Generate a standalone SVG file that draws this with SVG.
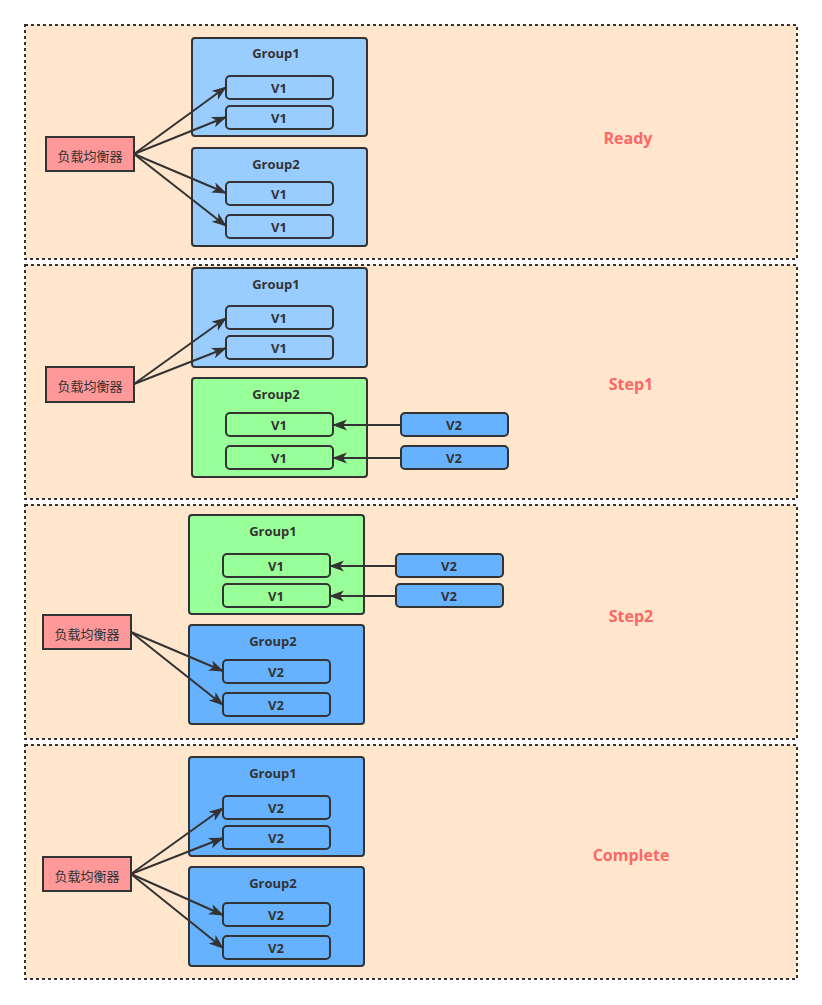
<svg xmlns="http://www.w3.org/2000/svg" width="822" height="1005" viewBox="0 0 822 1005">
<defs>
<marker id="ah" markerWidth="16" markerHeight="12" refX="14" refY="5.5" orient="auto" markerUnits="userSpaceOnUse">
<path d="M0,0 L15,5.5 L0,11 L4,5.5 Z" fill="#333"/>
</marker>
<style>
.panel{fill:#FFE6CC;stroke:#333;stroke-width:2;stroke-dasharray:3 3}
.grp{stroke:#333;stroke-width:2}
.b1{fill:#99CCFF}
.b2{fill:#66B2FF}
.g{fill:#99FF99}
.lb{fill:#FF9999;stroke:#333;stroke-width:2}
.t{font-family:"Open Sans","Liberation Sans","Noto Sans CJK SC",sans-serif;font-weight:bold;font-size:13px;fill:#333;text-anchor:middle;dominant-baseline:central}
.c{font-family:"Noto Sans CJK SC","Liberation Sans",sans-serif;font-size:13px;fill:#333;text-anchor:middle;dominant-baseline:central}
.lab{font-family:"Open Sans","Liberation Sans",sans-serif;font-weight:bold;font-size:16px;fill:#FF6666;text-anchor:middle;dominant-baseline:central}
.e{fill:none;stroke:#333;stroke-width:2;marker-end:url(#ah)}
</style>
</defs>
<rect width="822" height="1005" fill="#fff"/>
<g id="panels">
<rect class="panel" x="25" y="25" width="772" height="234"/>
<rect class="panel" x="25" y="265" width="772" height="234"/>
<rect class="panel" x="25" y="505" width="772" height="234"/>
<rect class="panel" x="25" y="745" width="772" height="234"/>
</g>
<g id="labels">
<text class="lab" x="628" y="138">Ready</text>
<text class="lab" x="631" y="384">Step1</text>
<text class="lab" x="631" y="616">Step2</text>
<text class="lab" x="631" y="855">Complete</text>
</g>
<!-- Panel 1 -->
<g id="p1-group1"><rect class="grp b1" x="192" y="38" width="175" height="98" rx="3"/><text class="t" x="276" y="53">Group1</text></g>
<g id="p1-g1-v1a"><rect class="grp b1" x="226" y="76" width="107" height="23" rx="4"/><text class="t" x="279" y="88">V1</text></g>
<g id="p1-g1-v1b"><rect class="grp b1" x="226" y="106" width="107" height="23" rx="4"/><text class="t" x="279" y="118">V1</text></g>
<g id="p1-group2"><rect class="grp b1" x="192" y="148" width="175" height="98" rx="3"/><text class="t" x="276" y="164">Group2</text></g>
<g id="p1-g2-v1a"><rect class="grp b1" x="226" y="182" width="107" height="23" rx="4"/><text class="t" x="279" y="194">V1</text></g>
<g id="p1-g2-v1b"><rect class="grp b1" x="226" y="215" width="107" height="23" rx="4"/><text class="t" x="279" y="227">V1</text></g>
<g id="p1-lb"><rect class="lb" x="46" y="137" width="88" height="34"/><text class="c" x="90" y="155">负载均衡器</text></g>
<!-- Panel 2 -->
<g id="p2-group1"><rect class="grp b1" x="192" y="268" width="175" height="99" rx="3"/><text class="t" x="276" y="284">Group1</text></g>
<g id="p2-g1-v1a"><rect class="grp b1" x="226" y="306" width="107" height="23" rx="4"/><text class="t" x="279" y="318">V1</text></g>
<g id="p2-g1-v1b"><rect class="grp b1" x="226" y="336" width="107" height="23" rx="4"/><text class="t" x="279" y="348">V1</text></g>
<g id="p2-group2"><rect class="grp g" x="192" y="378" width="175" height="99" rx="3"/><text class="t" x="276" y="394">Group2</text></g>
<g id="p2-g2-v1a"><rect class="grp g" x="226" y="413" width="107" height="23" rx="4"/><text class="t" x="279" y="425">V1</text></g>
<g id="p2-g2-v1b"><rect class="grp g" x="226" y="446" width="107" height="23" rx="4"/><text class="t" x="279" y="458">V1</text></g>
<g id="p2-v2a"><rect class="grp b2" x="401" y="413" width="107" height="23" rx="4"/><text class="t" x="454" y="425">V2</text></g>
<g id="p2-v2b"><rect class="grp b2" x="401" y="446" width="107" height="23" rx="4"/><text class="t" x="454" y="458">V2</text></g>
<g id="p2-lb"><rect class="lb" x="46" y="367" width="88" height="35"/><text class="c" x="90" y="385">负载均衡器</text></g>
<!-- Panel 3 -->
<g id="p3-group1"><rect class="grp g" x="189" y="515" width="175" height="99" rx="3"/><text class="t" x="273" y="531">Group1</text></g>
<g id="p3-g1-v1a"><rect class="grp g" x="223" y="554" width="107" height="23" rx="4"/><text class="t" x="276" y="566">V1</text></g>
<g id="p3-g1-v1b"><rect class="grp g" x="223" y="584" width="107" height="23" rx="4"/><text class="t" x="276" y="596">V1</text></g>
<g id="p3-group2"><rect class="grp b2" x="189" y="625" width="175" height="99" rx="3"/><text class="t" x="273" y="641">Group2</text></g>
<g id="p3-g2-v2a"><rect class="grp b2" x="223" y="660" width="107" height="23" rx="4"/><text class="t" x="276" y="672">V2</text></g>
<g id="p3-g2-v2b"><rect class="grp b2" x="223" y="693" width="107" height="23" rx="4"/><text class="t" x="276" y="705">V2</text></g>
<g id="p3-v2a"><rect class="grp b2" x="396" y="554" width="107" height="23" rx="4"/><text class="t" x="449" y="566">V2</text></g>
<g id="p3-v2b"><rect class="grp b2" x="396" y="584" width="107" height="23" rx="4"/><text class="t" x="449" y="596">V2</text></g>
<g id="p3-lb"><rect class="lb" x="43" y="615" width="88" height="34"/><text class="c" x="87" y="633">负载均衡器</text></g>
<!-- Panel 4 -->
<g id="p4-group1"><rect class="grp b2" x="189" y="757" width="175" height="99" rx="3"/><text class="t" x="273" y="773">Group1</text></g>
<g id="p4-g1-v2a"><rect class="grp b2" x="223" y="796" width="107" height="23" rx="4"/><text class="t" x="276" y="808">V2</text></g>
<g id="p4-g1-v2b"><rect class="grp b2" x="223" y="826" width="107" height="23" rx="4"/><text class="t" x="276" y="838">V2</text></g>
<g id="p4-group2"><rect class="grp b2" x="189" y="867" width="175" height="99" rx="3"/><text class="t" x="273" y="883">Group2</text></g>
<g id="p4-g2-v2a"><rect class="grp b2" x="223" y="903" width="107" height="23" rx="4"/><text class="t" x="276" y="915">V2</text></g>
<g id="p4-g2-v2b"><rect class="grp b2" x="223" y="936" width="107" height="23" rx="4"/><text class="t" x="276" y="948">V2</text></g>
<g id="p4-lb"><rect class="lb" x="43" y="857" width="88" height="34"/><text class="c" x="87" y="875">负载均衡器</text></g>
<g id="connectors">
<line class="e" x1="134" y1="154" x2="226" y2="87"/>
<line class="e" x1="134" y1="154" x2="226" y2="117"/>
<line class="e" x1="134" y1="154" x2="226" y2="193"/>
<line class="e" x1="134" y1="154" x2="226" y2="226"/>
<line class="e" x1="134" y1="384" x2="226" y2="318"/>
<line class="e" x1="134" y1="384" x2="226" y2="348"/>
<line class="e" x1="401" y1="425" x2="333" y2="425"/>
<line class="e" x1="401" y1="458" x2="333" y2="458"/>
<line class="e" x1="396" y1="566" x2="330" y2="566"/>
<line class="e" x1="396" y1="596" x2="330" y2="596"/>
<line class="e" x1="131" y1="632" x2="223" y2="671"/>
<line class="e" x1="131" y1="632" x2="223" y2="705"/>
<line class="e" x1="131" y1="874" x2="223" y2="808"/>
<line class="e" x1="131" y1="874" x2="223" y2="838"/>
<line class="e" x1="131" y1="874" x2="223" y2="915"/>
<line class="e" x1="131" y1="874" x2="223" y2="948"/>
</g>
</svg>
